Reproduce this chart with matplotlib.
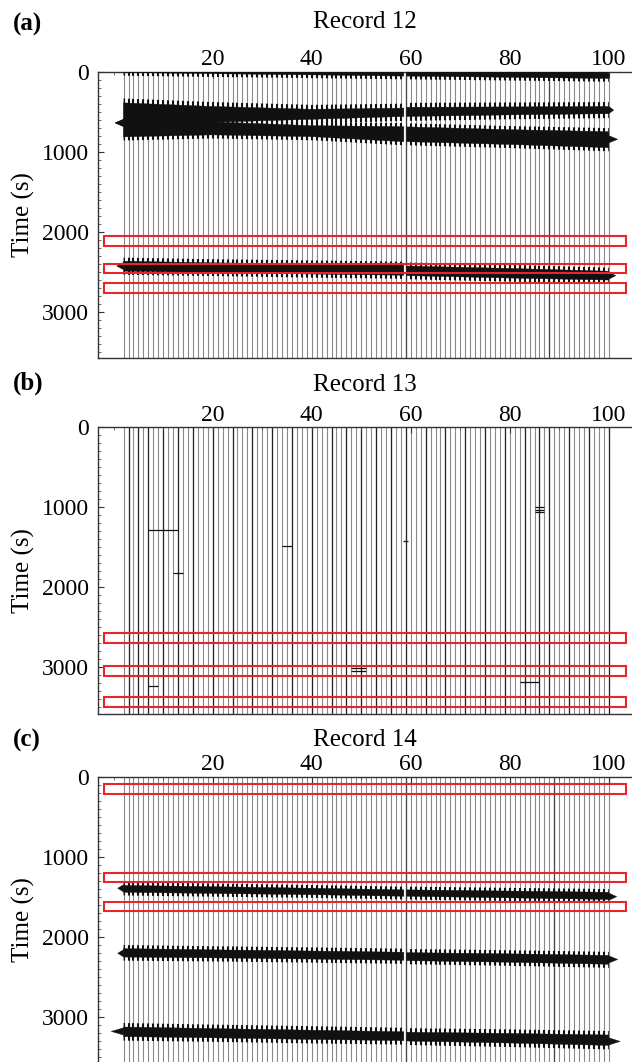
import numpy as np
import matplotlib
matplotlib.use("Agg")
import matplotlib.pyplot as plt
from matplotlib.patches import Polygon, Rectangle
from matplotlib.ticker import MultipleLocator

plt.rcParams['font.family'] = ['Liberation Serif', 'DejaVu Serif']

# ---------------- data ----------------
trace_numbers = np.arange(2, 101)          # station / trace index
x_ticks = [20, 40, 60, 80, 100]
y_ticks = [0, 1000, 2000, 3000]
titles = ['Record 12', 'Record 13', 'Record 14']
panel_labels = ['(a)', '(b)', '(c)']

# anchor traces for event bands (left and right of the break near trace 59)
left_anchor = [2, 20, 40, 58.6]
right_anchor = [59.2, 80, 100]

# Record 12 events: arrival window (s) at anchor traces
r12_top_top_l = [0, 0, 0, 0]
r12_top_bot_l = [10, 25, 40, 55]
r12_top_top_r = [0, 0, 0]
r12_top_bot_r = [55, 70, 85]

r12_mid_top_l = [390, 435, 470, 455]
r12_mid_bot_l = [640, 632, 595, 560]
r12_mid_top_r = [445, 440, 435]
r12_mid_bot_r = [560, 540, 525]
r12_mid_tip = (0.3, 640, 101.0, 480)

r12_low_top_l = [630, 628, 675, 687]
r12_low_bot_l = [815, 790, 812, 875]
r12_low_top_r = [690, 725, 750]
r12_low_bot_r = [875, 910, 950]
r12_low_tip = (0.3, 640, 101.8, 845)

r12_late_top_l = [2370, 2390, 2405, 2420]
r12_late_bot_l = [2495, 2510, 2530, 2545]
r12_late_top_r = [2430, 2460, 2495]
r12_late_bot_r = [2550, 2580, 2605]
r12_late_tip = (0.6, 2430, 101.4, 2550)

# Record 14 events
r14_e1_top_l = [1360, 1375, 1395, 1415]
r14_e1_bot_l = [1445, 1460, 1475, 1495]
r14_e1_top_r = [1415, 1430, 1445]
r14_e1_bot_r = [1495, 1515, 1535]
r14_e1_tip = (0.8, 1395, 101.6, 1500)

r14_e2_top_l = [2150, 2165, 2180, 2195]
r14_e2_bot_l = [2255, 2265, 2280, 2295]
r14_e2_top_r = [2200, 2215, 2235]
r14_e2_bot_r = [2300, 2320, 2345]
r14_e2_tip = (0.8, 2208, 101.8, 2285)

r14_e3_top_l = [3130, 3150, 3170, 3190]
r14_e3_bot_l = [3250, 3265, 3285, 3300]
r14_e3_top_r = [3195, 3210, 3230]
r14_e3_bot_r = [3305, 3330, 3360]
r14_e3_tip = (-0.5, 3185, 102.3, 3310)

# darker traces
dark_a = [59, 88]
dark_b = [3, 5, 7, 10, 13, 16, 20, 24, 28, 32, 36, 40, 44, 47, 50, 53, 56, 59,
          63, 67, 71, 75, 79, 83, 86, 88, 92, 96, 100]
dark_c = [59, 89]

# Record 13 glitches (trace from, trace to, time)
b_glitch_from = [7, 12, 34, 7, 48, 48, 82, 85, 85, 85, 58.5]
b_glitch_to = [13, 14, 36, 9, 51, 51, 86, 87, 87, 87, 59.5]
b_glitch_time = [1290, 1820, 1480, 3240, 3010, 3050, 3185, 1000, 1030, 1060, 1420]

# red boxes (time windows, s)
rect_x = (-2.0, 103.4)
rects_a = [(2060, 2180), (2400, 2515), (2640, 2770)]
rects_b = [(2570, 2700), (2980, 3105), (3375, 3500)]
rects_c = [(95, 215), (1200, 1320), (1565, 1685)]

# ---------------- figure ----------------
W, H = 632, 1062
fig = plt.figure(figsize=(W / 100, H / 100), dpi=100)

ax_left = 97.7 / W
ax_w = 542.3 / W
tops_px = [71.7, 427.3, 776.7]
ax_h_px = 286.3
XLIM = (-3.23, 106.3)
YMAX = 3580

TRACE_COL = '#8a8a8a'
BAND_COL = '#111111'
RED = '#e8262a'
FS = 17
TIP_HALF = 45


def band_polys(anchor, top, bot, pad=0.0):
    upper = [(x, t - pad) for x, t in zip(anchor, top)]
    lower = [(x, t + pad) for x, t in zip(anchor, bot)][::-1]
    return upper + lower


def draw_event(ax, top_l, bot_l, top_r, bot_r, tip=None, pad=45):
    for anchor, top, bot in [(left_anchor, top_l, bot_l), (right_anchor, top_r, bot_r)]:
        halo = Polygon(band_polys(anchor, top, bot, pad), closed=True,
                       transform=ax.transData, facecolor='none', edgecolor='none')
        ax.add_patch(halo)
        thick = ax.vlines(trace_numbers, 0, 3700, colors=BAND_COL, lw=1.5, zorder=2)
        thick.set_clip_path(halo)
        ax.fill(*zip(*band_polys(anchor, top, bot, 0)), color=BAND_COL, lw=0.3, zorder=3)
    if tip is not None:
        xl, tl, xr, tr = tip
        a0, a1 = left_anchor[0], right_anchor[-1]
        ax.fill([a0, xl, a0], [tl - TIP_HALF, tl, tl + TIP_HALF], color=BAND_COL, lw=0.3, zorder=3)
        ax.fill([a1, xr, a1], [tr - TIP_HALF, tr, tr + TIP_HALF], color=BAND_COL, lw=0.3, zorder=3)


def setup_axes(i):
    top = tops_px[i]
    ax = fig.add_axes([ax_left, (H - top - ax_h_px) / H, ax_w, ax_h_px / H])
    ax.set_xlim(*XLIM)
    ax.set_ylim(YMAX, 0)
    ax.xaxis.tick_top()
    ax.set_xticks(x_ticks)
    ax.xaxis.set_minor_locator(MultipleLocator(10))
    ax.set_yticks(y_ticks)
    ax.yaxis.set_minor_locator(MultipleLocator(100))
    ax.tick_params(axis='both', which='major', direction='in', length=4,
                   width=0.8, labelsize=FS, color='#333333')
    ax.tick_params(axis='x', which='major', pad=1)
    ax.tick_params(axis='y', which='major', pad=6)
    ax.tick_params(axis='both', which='minor', direction='in', length=2,
                   width=0.6, color='#555555')
    ax.spines['right'].set_visible(False)
    for s in ['left', 'top', 'bottom']:
        ax.spines[s].set_linewidth(1.0)
        ax.spines[s].set_color('#333333')
    if i == 2:
        ax.spines['bottom'].set_visible(False)
    ax.set_ylabel('Time (s)', fontsize=FS + 1)
    ax.yaxis.set_label_coords((35 - 97.7) / 542.3, 0.5)
    ax.vlines(trace_numbers, 0, 3700, colors=TRACE_COL, lw=0.8, zorder=1)
    return ax


def draw_rects(ax, rects):
    for t0, t1 in rects:
        ax.add_patch(Rectangle((rect_x[0], t0), rect_x[1] - rect_x[0], t1 - t0,
                               fill=False, edgecolor=RED, lw=1.5, zorder=5))


# ---- panel a ----
ax = setup_axes(0)
ax.vlines(dark_a, 0, 3700, colors='#444444', lw=0.9, zorder=1.5)
draw_event(ax, r12_top_top_l, r12_top_bot_l, r12_top_top_r, r12_top_bot_r, None, 40)
draw_event(ax, r12_mid_top_l, r12_mid_bot_l, r12_mid_top_r, r12_mid_bot_r, r12_mid_tip, 55)
draw_event(ax, r12_low_top_l, r12_low_bot_l, r12_low_top_r, r12_low_bot_r, r12_low_tip, 45)
draw_event(ax, r12_late_top_l, r12_late_bot_l, r12_late_top_r, r12_late_bot_r, r12_late_tip, 45)
draw_rects(ax, rects_a)

# ---- panel b ----
ax = setup_axes(1)
ax.vlines(dark_b, 0, 3700, colors='#222222', lw=0.9, zorder=1.5)
ax.hlines(b_glitch_time, b_glitch_from, b_glitch_to, colors='#111111', lw=0.9, zorder=2)
draw_rects(ax, rects_b)

# ---- panel c ----
ax = setup_axes(2)
ax.vlines(dark_c, 0, 3700, colors='#444444', lw=0.9, zorder=1.5)
draw_event(ax, r14_e1_top_l, r14_e1_bot_l, r14_e1_top_r, r14_e1_bot_r, r14_e1_tip, 40)
draw_event(ax, r14_e2_top_l, r14_e2_bot_l, r14_e2_top_r, r14_e2_bot_r, r14_e2_tip, 45)
draw_event(ax, r14_e3_top_l, r14_e3_bot_l, r14_e3_top_r, r14_e3_bot_r, r14_e3_tip, 50)
draw_rects(ax, rects_c)

# titles and panel labels
title_y = [22, 385, 740]
label_y = [24, 383, 740]
for i in range(3):
    fig.text(365 / W, 1 - title_y[i] / H, titles[i], ha='center', va='center',
             fontsize=FS + 1)
    fig.text(13 / W, 1 - label_y[i] / H, panel_labels[i], ha='left', va='center',
             fontsize=FS + 1, fontweight='bold')

fig.savefig('out.png', dpi=100)
